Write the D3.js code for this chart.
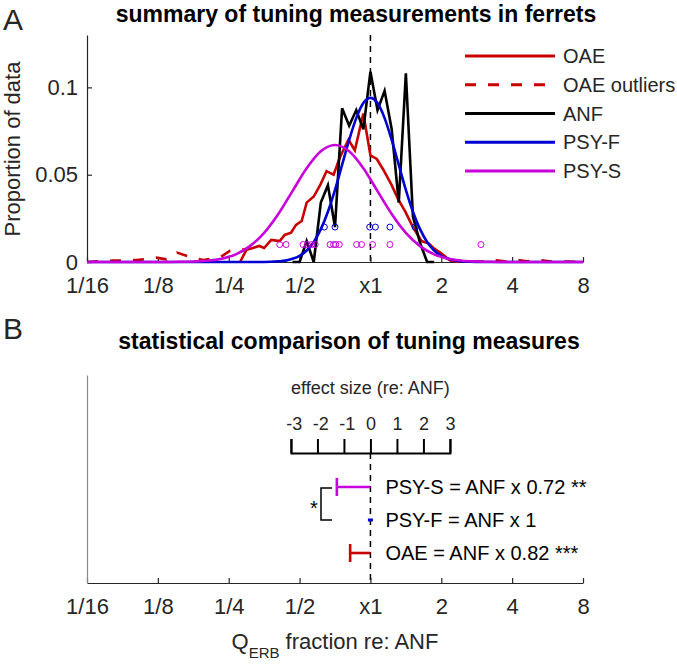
<!DOCTYPE html>
<html><head><meta charset="utf-8">
<script src="https://cdn.jsdelivr.net/npm/d3@7/dist/d3.min.js"></script>
<style>
body{margin:0;background:#fff}
text{font-family:"Liberation Sans",Arial,Helvetica,sans-serif;fill:#262626}
</style>
</head><body>
<svg id="chart" width="677" height="665"></svg>
<script>
// ---------- data (x values in octaves re: ANF, i.e. log2 of the Q fraction) ----------
const xTickValues = [-4,-3,-2,-1,0,1,2,3];
const xTickLabels = ["1/16","1/8","1/4","1/2","x1","2","4","8"];
const yTickValues = [0,0.05,0.1];
const yTickLabels = ["0","0.05","0.1"];

const oaeX = [-1.84,-1.75,-1.66,-1.57,-1.50,-1.40,-1.28,-1.21,-1.12,-1.05,-0.97,-0.90,-0.80,-0.71,-0.62,-0.52,-0.43,-0.31,-0.22,-0.10,0.0,0.09,0.18,0.30,0.39,0.49,0.60,0.72,0.82,0.89,1.0,1.12,1.26];
const oaeY = [0,0.007,0.008,0.0092,0.008,0.0126,0.012,0.0155,0.0168,0.0213,0.0235,0.034,0.0375,0.044,0.052,0.050,0.060,0.070,0.064,0.085,0.061,0.059,0.053,0.044,0.036,0.029,0.020,0.012,0.0107,0.008,0.005,0.001,0];

const outLeftX = [-4,-3.63,-3.30,-3.02,-2.88,-2.73,-2.55,-2.36,-2.12,-1.98,-1.84,-1.75];
const outLeftY = [0,0.0008,0.0011,0.0025,0.0015,0.0054,0.003,0.0011,0.0027,0.0065,0.0075,0.007];
const outRightX = [1.12,1.26,1.45,1.62,1.78,1.92,2.06,2.20,2.39,2.55,2.80,3.0];
const outRightY = [0.001,0.0005,0.0003,0.0002,0.0009,0.0003,0.0013,0.0004,0.0011,0.0002,0.0002,0.0001];

const anfX = [-1.1,-1.0,-0.9,-0.8,-0.7,-0.6,-0.5,-0.4,-0.3,-0.2,-0.1,0,0.1,0.2,0.3,0.4,0.5,0.6,0.7,0.8,0.9];
const anfY = [0,0,0.012,0,0.034,0.044,0.020,0.088,0.078,0.087,0.076,0.109,0.087,0.098,0.076,0.034,0.108,0.026,0.011,0,0];

const psyFX = [-4,-3,-2,-1.6,-1.4,-1.3,-1.2,-1.1,-1.0,-0.9,-0.8,-0.7,-0.6,-0.5,-0.4,-0.3,-0.2,-0.1,0,0.1,0.2,0.3,0.4,0.5,0.6,0.7,0.8,0.9,1.0,1.1,1.2,1.3,1.4,1.6,2,3];
const psyFY = [0,0,0,0,0.00015,0.0004,0.0008,0.0018,0.0035,0.0066,0.0115,0.0188,0.0288,0.0413,0.0556,0.0699,0.0824,0.0910,0.094,0.0910,0.0824,0.0699,0.0556,0.0413,0.0288,0.0188,0.0115,0.0066,0.0035,0.0018,0.0008,0.0004,0.00015,0,0,0];

const psySX = [-4,-3.5,-3.1,-2.9,-2.7,-2.5,-2.3,-2.1,-1.9,-1.7,-1.5,-1.3,-1.1,-0.9,-0.7,-0.5,-0.3,-0.1,0.1,0.3,0.5,0.7,0.9,1.1,1.3,1.5,1.7,1.9,2.1,2.5,3.0];
const psySY = [0,0,0,0,0.0001,0.0003,0.0007,0.0019,0.0044,0.0091,0.0167,0.0275,0.0406,0.0537,0.0634,0.067,0.0634,0.0537,0.0406,0.0275,0.0167,0.0091,0.0044,0.0019,0.0007,0.0003,0.0001,0,0,0,0];

const psyFCircX = [-0.65,-0.50,-0.01,0.07,0.275,0.63];
const psyFCircY = 0.02;
const psySCircX = [-1.28,-1.19,-0.95,-0.89,-0.83,-0.78,-0.57,-0.52,-0.49,-0.44,-0.195,-0.125,0.03,0.275,1.56];
const psySCircY = 0.01;

const legendNames = ["OAE","OAE outliers","ANF","PSY-F","PSY-S"];

const effectTicks = [-3,-2,-1,0,1,2,3];
const rowNames = ["PSY-S","PSY-F","OAE"];
const rowRatios = [0.72,1,0.82];
const rowLabels = ["PSY-S = ANF x 0.72 **","PSY-F = ANF x 1","OAE = ANF x 0.82 ***"];

// ---------- styles ----------
const C = {oae:"#c80000", anf:"#000000", psyF:"#0000d2", psyS:"#c800dc", axis:"#262626"};
const legendColors = [C.oae,C.oae,C.anf,C.psyF,C.psyS];
const legendDash = [null,"11,12",null,null,null];
const rowColors = [C.psyS,C.psyF,C.oae];

const svg = d3.select("#chart");
const x = d3.scaleLinear().domain([-4,3]).range([87,583]);
const yA = d3.scaleLinear().domain([0,0.13]).range([262,35]);
const zip = (xs,ys)=>xs.map((v,i)=>[v,ys[i]]);
const line = d3.line().x(d=>x(d[0])).y(d=>yA(d[1]));

// ---------- Panel A ----------
svg.append("text").attr("x",3).attr("y",30).style("font-size","30px").text("A");
svg.append("text").attr("x",356).attr("y",22).attr("text-anchor","middle")
  .style("font-size","23px").style("font-weight","bold").style("fill","#000")
  .text("summary of tuning measurements in ferrets");

// x1 reference line
svg.append("line").attr("x1",x(0)).attr("x2",x(0)).attr("y1",yA.range()[1]).attr("y2",yA(0))
  .attr("stroke","#000").attr("stroke-width",1.5).attr("stroke-dasharray","6,5");

const gx = svg.append("g").attr("transform",`translate(0,${yA(0)})`)
  .call(d3.axisBottom(x).tickValues(xTickValues).tickFormat((d,i)=>xTickLabels[i])
    .tickSizeInner(-5).tickSizeOuter(0).tickPadding(15));
const gy = svg.append("g").attr("transform",`translate(${x(-4)},0)`)
  .call(d3.axisLeft(yA).tickValues(yTickValues).tickFormat((d,i)=>yTickLabels[i])
    .tickSizeInner(-5).tickSizeOuter(0).tickPadding(9));
[gx,gy].forEach(g=>{
  g.selectAll("path,line").attr("stroke",C.axis).attr("stroke-width",1.2);
  g.selectAll("text").style("font-size","22px").style("font-family","'Liberation Sans',Arial,sans-serif").attr("fill",C.axis);
});

svg.append("text").attr("transform",`translate(20,149) rotate(-90)`).attr("text-anchor","middle")
  .style("font-size","22px").text("Proportion of data");

// curves
const curves = svg.append("g").attr("fill","none").attr("stroke-width",2.6);
curves.append("path").attr("d",line(zip(outLeftX,outLeftY))).attr("stroke",C.oae).attr("stroke-dasharray","11,12");
curves.append("path").attr("d",line(zip(outRightX,outRightY))).attr("stroke",C.oae).attr("stroke-dasharray","11,12");
curves.append("path").attr("d",line(zip(oaeX,oaeY))).attr("stroke",C.oae);
curves.append("path").attr("d",line(zip(anfX,anfY))).attr("stroke",C.anf);
const smooth = d3.line().x(d=>x(d[0])).y(d=>yA(d[1])).curve(d3.curveMonotoneX);
curves.append("path").attr("d",smooth(zip(psyFX,psyFY))).attr("stroke",C.psyF);
curves.append("path").attr("d",smooth(zip(psySX,psySY))).attr("stroke",C.psyS);

// individual points
svg.append("g").selectAll("circle").data(psyFCircX).join("circle")
  .attr("cx",d=>x(d)).attr("cy",yA(psyFCircY)).attr("r",3)
  .attr("fill","none").attr("stroke",C.psyF).attr("stroke-width",1);
svg.append("g").selectAll("circle").data(psySCircX).join("circle")
  .attr("cx",d=>x(d)).attr("cy",yA(psySCircY)).attr("r",3)
  .attr("fill","none").attr("stroke",C.psyS).attr("stroke-width",1);

// legend
const lg = svg.append("g");
const legY = d3.scalePoint().domain(legendNames).range([56,171]);
legendNames.forEach((n,i)=>{
  lg.append("line").attr("x1",465).attr("x2",555).attr("y1",legY(n)).attr("y2",legY(n))
    .attr("stroke",legendColors[i]).attr("stroke-width",3)
    .attr("stroke-dasharray",legendDash[i]);
  lg.append("text").attr("x",563).attr("y",legY(n)).attr("dy","0.36em")
    .style("font-size","20px").text(n);
});

// ---------- Panel B ----------
svg.append("text").attr("x",3).attr("y",339).style("font-size","30px").text("B");
svg.append("text").attr("x",349).attr("y",349).attr("text-anchor","middle")
  .style("font-size","23px").style("font-weight","bold").style("fill","#000")
  .text("statistical comparison of tuning measures");

const yB = d3.scaleLinear().domain([0,1]).range([583,375]);
const gxB = svg.append("g").attr("transform",`translate(0,${yB(0)})`)
  .call(d3.axisBottom(x).tickValues(xTickValues).tickFormat((d,i)=>xTickLabels[i])
    .tickSizeInner(-5).tickSizeOuter(0).tickPadding(15));
gxB.selectAll("path,line").attr("stroke",C.axis).attr("stroke-width",1.2);
gxB.selectAll("text").style("font-size","22px").style("font-family","'Liberation Sans',Arial,sans-serif").attr("fill",C.axis);
const gyB = svg.append("g").attr("transform",`translate(${x(-4)},0)`)
  .call(d3.axisLeft(yB).tickValues([]).tickSizeOuter(0));
gyB.select("path").attr("stroke","#8a8a8a").attr("stroke-width",1.2);

// x label
const xl = svg.append("text").attr("x",335).attr("y",649).attr("text-anchor","middle").style("font-size","22px");
xl.append("tspan").text("Q");
xl.append("tspan").attr("dy",9).style("font-size","15px").text("ERB");
xl.append("tspan").attr("dy",-9).text(" fraction re: ANF");

// effect size scale
const eff = d3.scaleLinear().domain([-3,3]).range([x(0)-79.5,x(0)+79.5]);
const effY = 453;
svg.append("text").attr("x",x(0)).attr("y",394).attr("text-anchor","middle")
  .style("font-size","18px").text("effect size (re: ANF)");
const ge = svg.append("g").attr("transform",`translate(0,${effY})`)
  .call(d3.axisTop(eff).tickValues(effectTicks).tickFormat(d=>d<0?"-"+Math.abs(d):String(d))
    .tickSize(14).tickPadding(9));
ge.selectAll("path,line").attr("stroke","#000").attr("stroke-width",2);
ge.selectAll("text").style("font-size","18px").style("font-family","'Liberation Sans',Arial,sans-serif")
  .attr("fill","#000").attr("dx",d=>d<0?"0.15em":0);

// x1 reference line panel B
svg.append("line").attr("x1",x(0)).attr("x2",x(0)).attr("y1",effY).attr("y2",yB(0))
  .attr("stroke","#000").attr("stroke-width",1.5).attr("stroke-dasharray","6,5");

// rows
const rowY = d3.scalePoint().domain(rowNames).range([487,553]);
rowNames.forEach((n,i)=>{
  const xr = x(Math.log2(rowRatios[i])), y0 = rowY(n);
  if (rowRatios[i] === 1) {
    svg.append("line").attr("x1",x(0)-2.5).attr("x2",x(0)+2.5).attr("y1",y0).attr("y2",y0)
      .attr("stroke",rowColors[i]).attr("stroke-width",3);
  } else {
    svg.append("line").attr("x1",xr).attr("x2",x(0)).attr("y1",y0).attr("y2",y0)
      .attr("stroke",rowColors[i]).attr("stroke-width",2.6);
    svg.append("line").attr("x1",xr).attr("x2",xr).attr("y1",y0-9).attr("y2",y0+9)
      .attr("stroke",rowColors[i]).attr("stroke-width",2.6);
  }
  svg.append("text").attr("x",x(0)+15).attr("y",y0).attr("dy","0.36em")
    .style("font-size","20px").style("fill","#000").text(rowLabels[i]);
});

// significance bracket between PSY-S and PSY-F
const yS = rowY("PSY-S")+1, yF = rowY("PSY-F");
svg.append("path").attr("d",`M332,${yS}H321V${yF}H332`).attr("fill","none")
  .attr("stroke","#000").attr("stroke-width",1.5);
svg.append("text").attr("x",314).attr("y",(yS+yF)/2+11).attr("text-anchor","middle")
  .style("font-size","20px").style("fill","#000").text("*");
</script>
</body></html>
